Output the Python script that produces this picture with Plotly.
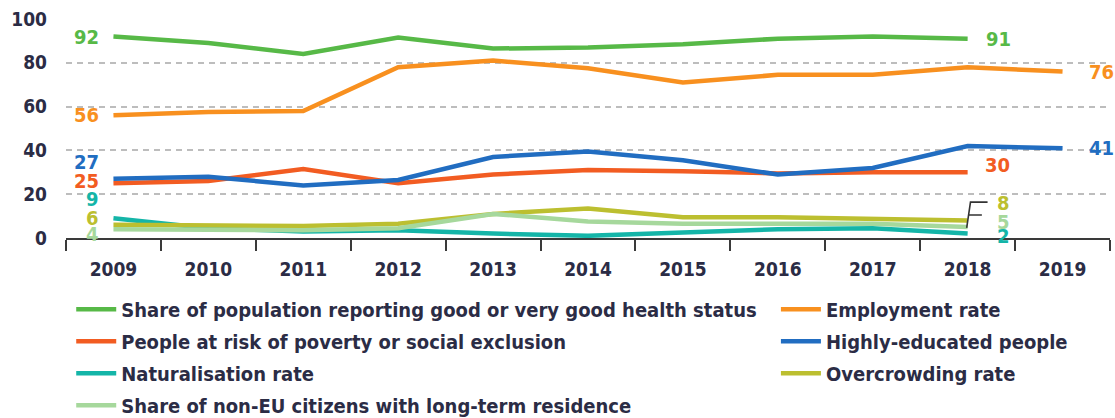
import plotly.graph_objects as go

years = ["2009", "2010", "2011", "2012", "2013", "2014", "2015", "2016", "2017", "2018", "2019"]

health = [92, 89, 84, 91.5, 86.5, 87, 88.5, 91, 92, 91, None]
employment = [56, 57.5, 58, 78, 81, 77.5, 71, 74.5, 74.5, 78, 76]
poverty = [25, 26, 31.5, 25, 29, 31, 30.5, 29.5, 30, 30, None]
educated = [27, 28, 24, 26.5, 37, 39.5, 35.5, 29, 32, 42, 41]
naturalisation = [9, 4.5, 3, 3.5, 2, 1, 2.5, 4, 4.5, 2, None]
overcrowding = [6, 5.5, 5.5, 6.5, 11, 13.5, 9.5, 9.5, 9, 8, None]
longterm = [4, 3.5, 3.5, 4.5, 11, 7.5, 6.5, 6.5, 6.5, 5, None]

y_ticks = [0, 20, 40, 60, 80, 100]

FONT = "DejaVu Sans Condensed, Liberation Sans Narrow, Arial Narrow, sans-serif"
TEXT = "#2b2c45"

# name, values, colour, legend column
series = [
    ("Share of population reporting good or very good health status", health, "#57b947", "legend"),
    ("Employment rate", employment, "#f8901f", "legend2"),
    ("People at risk of poverty or social exclusion", poverty, "#f25c22", "legend"),
    ("Highly-educated people", educated, "#216dc1", "legend2"),
    ("Naturalisation rate", naturalisation, "#14b5a8", "legend"),
    ("Overcrowding rate", overcrowding, "#bcbf30", "legend2"),
    ("Share of non-EU citizens with long-term residence", longterm, "#a6d89c", "legend"),
]

# pixel nudges for the first / last value labels
start_yshift = [0, 0, 2, 17, 19, 7, -5]
end_yshift = [0, 0, 7, 0, -2, 17, 5]
end_xshift = [16, 24, 15, 24, 27, 27, 27]

fig = go.Figure()
for i, (name, vals, color, leg) in enumerate(series):
    fig.add_trace(go.Scatter(
        x=years, y=vals, name=name, mode="lines",
        line=dict(color=color, width=4.5),
        legend=leg, legendgroup=f"g{i}",
    ))

# value labels at both ends of each line; x given as category index
annotations = []
for i, (name, vals, color, leg) in enumerate(series):
    v0 = vals[0]
    annotations.append(dict(
        x=0, y=v0, xref="x", yref="y", text=f"<b>{round(v0)}</b>",
        showarrow=False, xanchor="right", yanchor="middle",
        xshift=-12, yshift=start_yshift[i],
        font=dict(family=FONT, size=20, color=color),
    ))
    last = max(k for k, v in enumerate(vals) if v is not None)
    v1 = vals[last]
    annotations.append(dict(
        x=last, y=v1, xref="x", yref="y", text=f"<b>{round(v1)}</b>",
        showarrow=False, xanchor="left", yanchor="middle",
        xshift=end_xshift[i], yshift=end_yshift[i],
        font=dict(family=FONT, size=20, color=color),
    ))

# small leader mark joining the stacked low-value labels
shapes = [
    dict(type="path", xref="x", yref="y",
         path="M 9.21 16.4 L 9.03 16.4 L 8.99 4.6 M 9.005 10.5 L 9.15 10.5",
         line=dict(color="#333333", width=1.6)),
]

legend_font = dict(family=FONT, size=20, color=TEXT, weight="bold")

fig.update_layout(
    width=1115, height=418,
    margin=dict(l=66, r=5, t=19, b=180, autoexpand=False),
    paper_bgcolor="white", plot_bgcolor="white",
    font=dict(family=FONT, color=TEXT, size=19),
    showlegend=True,
    legend=dict(
        orientation="v", x=0.005, y=-0.236, xanchor="left", yanchor="top",
        font=legend_font, tracegroupgap=3, itemwidth=40, bgcolor="rgba(0,0,0,0)",
    ),
    legend2=dict(
        orientation="v", x=0.68, y=-0.236, xanchor="left", yanchor="top",
        font=legend_font, tracegroupgap=3, itemwidth=40, bgcolor="rgba(0,0,0,0)",
    ),
    annotations=annotations,
    shapes=shapes,
)

fig.update_xaxes(
    type="category", categoryorder="array", categoryarray=years,
    range=[-0.5, 10.5],
    showgrid=False, showline=True, linecolor="#3a3a3a", linewidth=2,
    ticks="outside", tickson="boundaries", ticklen=11, tickwidth=2, tickcolor="#3a3a3a",
    ticklabelstandoff=13,
    tickfont=dict(family=FONT, size=19, color=TEXT, weight="bold"),
)
fig.update_yaxes(
    range=[0, 100], tickvals=y_ticks, ticktext=[str(t) for t in y_ticks],
    showgrid=True, gridcolor="#bdbdbd", gridwidth=1.5, griddash="6px,5px",
    zeroline=False, showline=False, ticks="", ticklabelstandoff=18,
    tickfont=dict(family=FONT, size=19, color=TEXT, weight="bold"),
)

fig.write_html("out.html")
